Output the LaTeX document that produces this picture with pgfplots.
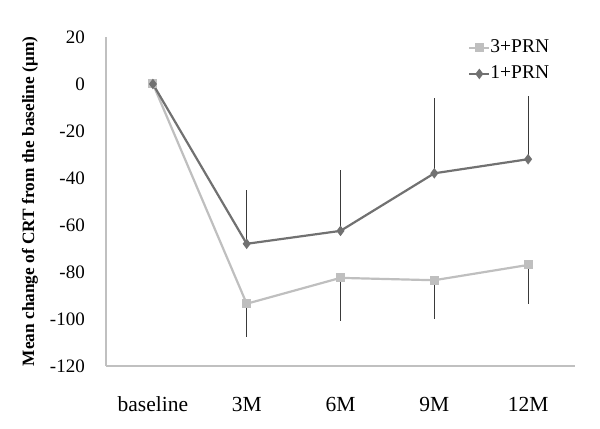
\documentclass[border=0pt]{standalone}
\usepackage{fontspec}
\setmainfont{Liberation Serif}
\usepackage{pgfplots}
\pgfplotsset{compat=1.18}
\definecolor{lightser}{HTML}{BFBFBF}
\definecolor{darkser}{HTML}{717171}
\definecolor{axisgray}{HTML}{C0C0C0}
\definecolor{errgray}{HTML}{3A3A3A}

\begin{document}
\begin{tikzpicture}
\useasboundingbox (0,0) rectangle (600bp,429bp);
\begin{axis}[
  at={(106bp,63bp)}, anchor=south west,
  scale only axis, width=469bp, height=329bp,
  xmin=-0.5, xmax=4.5, ymin=-120, ymax=20,
  axis x line=bottom, axis y line=left,
  axis line style={-, axisgray, line width=1.2bp},
  xtick={0,...,4}, xticklabels={baseline,3M,6M,9M,12M},
  ytick={-120,-100,-80,-60,-40,-20,0,20},
  yticklabels={-120,-100,-80,-60,-40,-20,0,20},
  major tick length=0pt,
  yticklabel style={font=\fontsize{19bp}{22bp}\selectfont, anchor=east, inner sep=0pt, xshift=-21bp},
  xticklabel style={font=\fontsize{21.5bp}{24bp}\selectfont, anchor=base, inner sep=0pt, yshift=-45bp},
  ylabel={Mean change of CRT from the baseline (μm)},
  ylabel style={at={(axis description cs:-0.162,0.5)}, anchor=center, font=\fontsize{17.3bp}{20bp}\selectfont\bfseries},
  legend style={at={(axis description cs:0.772,0.994)}, anchor=north west, draw=none, fill=none,
    font=\fontsize{19.5bp}{22bp}\selectfont, inner sep=0pt, row sep=8.5bp,
    nodes={inner sep=0pt, text height=13.5bp, text depth=4bp}},
  legend cell align=left,
  legend image code/.code={\draw[mark repeat=2,mark phase=2,#1] plot coordinates {(0bp,0bp) (10bp,0bp) (20bp,0bp)};},
  clip=false,
]
% 3+PRN, error bars downward
\addplot[color=lightser, line width=2.2bp, mark=square*, mark size=3.4bp,
  error bars/.cd, y dir=minus, y explicit, error mark=none,
  error bar style={errgray, line width=1bp}]
  coordinates {(0,0) +- (0,0) (1,-93.5) +- (0,14) (2,-82.5) +- (0,18.5) (3,-83.5) +- (0,16.5) (4,-77) +- (0,16.5)};
\addlegendentry{3+PRN}
% 1+PRN, error bars upward
\addplot[color=darkser, line width=2.2bp, mark=diamond*, mark size=3.5bp,
  error bars/.cd, y dir=plus, y explicit, error mark=none,
  error bar style={errgray, line width=1bp}]
  coordinates {(0,0) +- (0,0) (1,-68) +- (0,23) (2,-62.5) +- (0,26) (3,-38) +- (0,32) (4,-32) +- (0,27)};
\addlegendentry{1+PRN}
\end{axis}
\end{tikzpicture}
\end{document}
